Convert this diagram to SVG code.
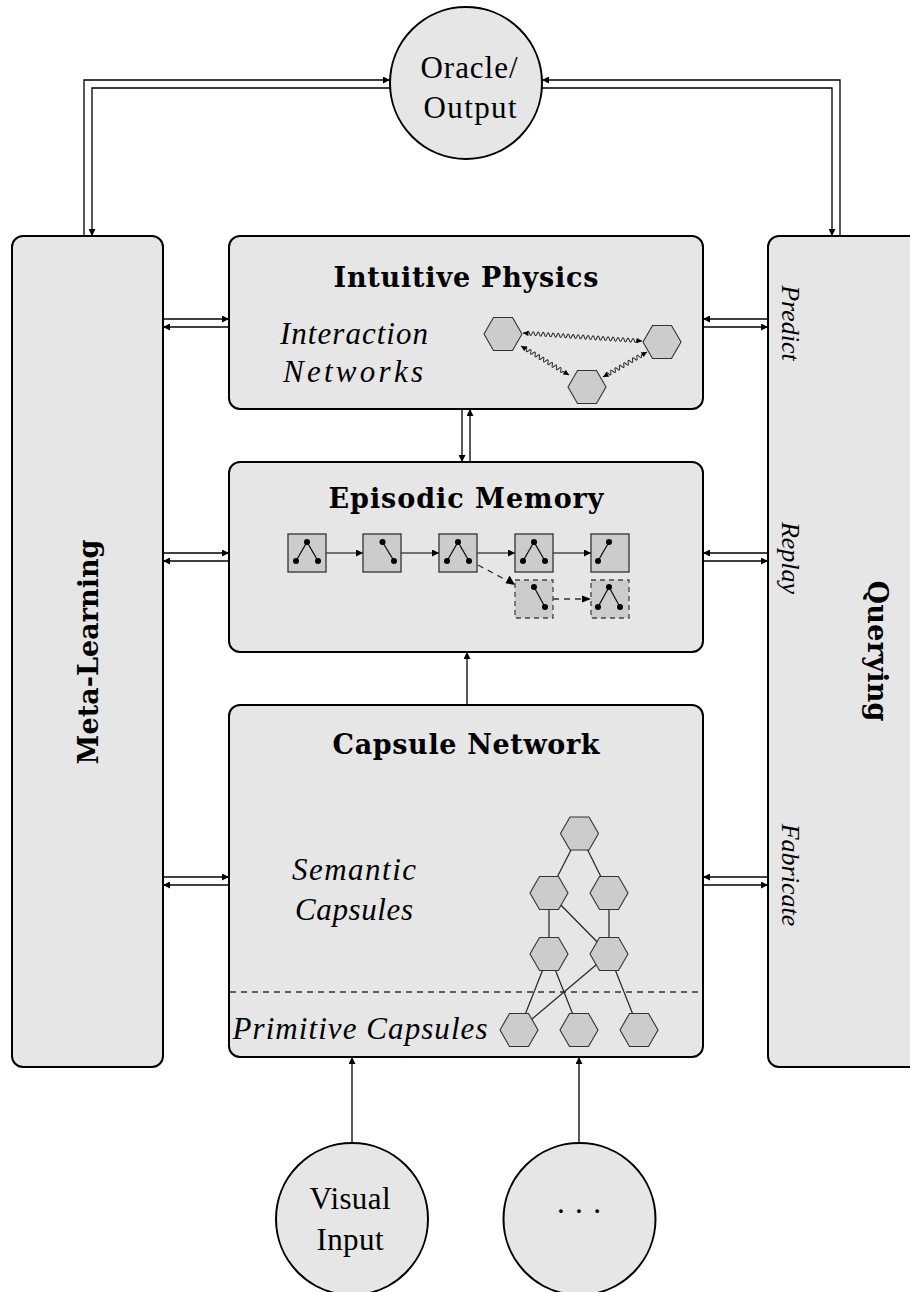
<svg xmlns="http://www.w3.org/2000/svg" xmlns:xlink="http://www.w3.org/1999/xlink" width="910" height="1292" viewBox="0 0 910 1292">
  <style>
    .box { fill: #e6e6e6; stroke: #000; stroke-width: 2; }
    .circ { fill: #e6e6e6; stroke: #000; stroke-width: 2; }
    .hex { fill: #cccccc; stroke: #333; stroke-width: 1.1; }
    .sq { fill: #cccccc; stroke: #333; stroke-width: 1.3; }
    .sqd { fill: #cccccc; stroke: #444; stroke-width: 1.3; stroke-dasharray: 5 4; }
    .dot { fill: #000; }
    .seg { stroke: #111; stroke-width: 1.3; fill: none; }
    .edge { stroke: #222; stroke-width: 1.2; fill: none; }
    .conn { stroke: #000; stroke-width: 1.3; fill: none; marker-end: url(#arr); }
    .small { stroke: #000; stroke-width: 1.2; fill: none; marker-end: url(#arr); }
    .dash { stroke: #333; stroke-width: 1.3; fill: none; stroke-dasharray: 6 5; }
    .wave { stroke: #222; stroke-width: 1; fill: none; marker-start: url(#arrw); marker-end: url(#arrw); }
    .t { font-family: "Liberation Serif", "DejaVu Serif", serif; fill: #000; }
    .title { font-family: "DejaVu Serif", "Liberation Serif", serif; font-size: 27px; font-weight: bold; text-anchor: middle; }
    .lbl { font-size: 31px; text-anchor: middle; }
    .it { font-size: 31px; font-style: italic; text-anchor: middle; }
    .side { font-size: 26px; font-style: italic; text-anchor: middle; }
  </style>
  <defs>
    <marker id="arr" viewBox="0 0 10 10" refX="10" refY="5" markerUnits="userSpaceOnUse" markerWidth="9" markerHeight="7" orient="auto-start-reverse">
      <path d="M0,0 L10,5 L0,10 Z" fill="#000"/>
    </marker>
    <marker id="arrw" viewBox="0 0 10 10" refX="10" refY="5" markerUnits="userSpaceOnUse" markerWidth="7" markerHeight="5.5" orient="auto-start-reverse">
      <path d="M0,0 L10,5 L0,10 Z" fill="#000"/>
    </marker>
    <path id="hex" d="M-19,0 L-9.5,-16.5 L9.5,-16.5 L19,0 L9.5,16.5 L-9.5,16.5 Z"/>
  </defs>

  <!-- connectors -->
  <g id="connectors">
    <!-- oracle loop, left -->
    <path class="conn" d="M84,236 V80 H390"/>
    <path class="conn" d="M391,88 H92 V236"/>
    <!-- oracle loop, right -->
    <path class="conn" d="M840,236 V80 H542"/>
    <path class="conn" d="M541,88 H832 V236"/>
    <!-- meta-learning links -->
    <path class="conn" d="M163,319 H229"/>
    <path class="conn" d="M229,327 H163"/>
    <path class="conn" d="M163,553 H229"/>
    <path class="conn" d="M229,561 H163"/>
    <path class="conn" d="M163,877 H229"/>
    <path class="conn" d="M229,885 H163"/>
    <!-- querying links -->
    <path class="conn" d="M768,319 H703"/>
    <path class="conn" d="M703,327 H768"/>
    <path class="conn" d="M768,553 H703"/>
    <path class="conn" d="M703,561 H768"/>
    <path class="conn" d="M768,877 H703"/>
    <path class="conn" d="M703,885 H768"/>
    <!-- vertical stack -->
    <path class="conn" d="M462,409 V462"/>
    <path class="conn" d="M470,462 V409"/>
    <path class="conn" d="M467,705 V652"/>
    <!-- inputs -->
    <path class="conn" d="M352,1143 V1057"/>
    <path class="conn" d="M579,1143 V1057"/>
  </g>

  <!-- oracle -->
  <g id="oracle">
    <circle class="circ" cx="466" cy="83" r="76"/>
    <text class="t lbl" x="469" y="78" textLength="97">Oracle/</text>
    <text class="t lbl" x="470" y="118" textLength="93">Output</text>
  </g>

  <!-- meta-learning -->
  <g id="meta-learning">
    <rect class="box" x="12" y="236" width="151" height="831" rx="11"/>
    <text class="t title" transform="translate(98,652) rotate(-90)" x="0" y="0" textLength="225">Meta-Learning</text>
  </g>

  <!-- querying -->
  <g id="querying">
    <rect class="box" x="768" y="236" width="160" height="831" rx="11"/>
    <text class="t title" transform="translate(868,651) rotate(90)" x="0" y="0" textLength="141">Querying</text>
    <text class="t side" transform="translate(782,323) rotate(90)" x="0" y="0">Predict</text>
    <text class="t side" transform="translate(782,558) rotate(90)" x="0" y="0">Replay</text>
    <text class="t side" transform="translate(782,875) rotate(90)" x="0" y="0">Fabricate</text>
  </g>

  <!-- intuitive physics -->
  <g id="intuitive-physics">
    <rect class="box" x="229" y="236" width="474" height="173" rx="11"/>
    <text class="t title" x="466" y="287" textLength="265">Intuitive Physics</text>
    <text class="t it" x="354" y="344" textLength="148">Interaction</text>
    <text class="t it" x="353" y="382" textLength="140">Networks</text>
    <path class="wave" transform="translate(523,333) rotate(3.85)" d="M0,0 h4 q1.25,-4 2.5,0 q1.25,4 2.5,0 q1.25,-4 2.5,0 q1.25,4 2.5,0 q1.25,-4 2.5,0 q1.25,4 2.5,0 q1.25,-4 2.5,0 q1.25,4 2.5,0 q1.25,-4 2.5,0 q1.25,4 2.5,0 q1.25,-4 2.5,0 q1.25,4 2.5,0 q1.25,-4 2.5,0 q1.25,4 2.5,0 q1.25,-4 2.5,0 q1.25,4 2.5,0 q1.25,-4 2.5,0 q1.25,4 2.5,0 q1.25,-4 2.5,0 q1.25,4 2.5,0 q1.25,-4 2.5,0 q1.25,4 2.5,0 q1.25,-4 2.5,0 q1.25,4 2.5,0 q1.25,-4 2.5,0 q1.25,4 2.5,0 q1.25,-4 2.5,0 q1.25,4 2.5,0 q1.25,-4 2.5,0 q1.25,4 2.5,0 q1.25,-4 2.5,0 q1.25,4 2.5,0 q1.25,-4 2.5,0 q1.25,4 2.5,0 q1.25,-4 2.5,0 q1.25,4 2.5,0 q1.25,-4 2.5,0 q1.25,4 2.5,0 q1.25,-4 2.5,0 q1.25,4 2.5,0 q1.25,-4 2.5,0 q1.25,4 2.5,0 q1.25,-4 2.5,0 q1.25,4 2.5,0 L119.3,0"/>
    <path class="wave" transform="translate(521,346) rotate(31.1)" d="M0,0 h4 q1.25,-4 2.5,0 q1.25,4 2.5,0 q1.25,-4 2.5,0 q1.25,4 2.5,0 q1.25,-4 2.5,0 q1.25,4 2.5,0 q1.25,-4 2.5,0 q1.25,4 2.5,0 q1.25,-4 2.5,0 q1.25,4 2.5,0 q1.25,-4 2.5,0 q1.25,4 2.5,0 q1.25,-4 2.5,0 q1.25,4 2.5,0 q1.25,-4 2.5,0 q1.25,4 2.5,0 q1.25,-4 2.5,0 q1.25,4 2.5,0 L56.1,0"/>
    <path class="wave" transform="translate(603,377) rotate(-29.6)" d="M0,0 h4 q1.25,-4 2.5,0 q1.25,4 2.5,0 q1.25,-4 2.5,0 q1.25,4 2.5,0 q1.25,-4 2.5,0 q1.25,4 2.5,0 q1.25,-4 2.5,0 q1.25,4 2.5,0 q1.25,-4 2.5,0 q1.25,4 2.5,0 q1.25,-4 2.5,0 q1.25,4 2.5,0 q1.25,-4 2.5,0 q1.25,4 2.5,0 q1.25,-4 2.5,0 q1.25,4 2.5,0 L50.6,0"/>
    <use class="hex" href="#hex" x="503" y="334"/>
    <use class="hex" href="#hex" x="662" y="342"/>
    <use class="hex" href="#hex" x="587" y="387"/>
  </g>

  <!-- episodic memory -->
  <g id="episodic-memory">
    <rect class="box" x="229" y="462" width="474" height="190" rx="11"/>
    <text class="t title" x="466" y="508" textLength="275">Episodic Memory</text>
    <!-- timeline arrows -->
    <path class="small" d="M326,553 H363"/>
    <path class="small" d="M401,553 H439"/>
    <path class="small" d="M477,553 H515"/>
    <path class="small" d="M553,553 H591"/>
    <path class="dash" d="M478,565 L506,580" />
    <path d="M515,585 L505.5,583.2 L509.6,575.5 Z" fill="#000"/>
    <path class="dash" d="M553,599 H584"/>
    <path d="M591,599 L582,595.5 L582,602.5 Z" fill="#000"/>
    <!-- frames -->
    <rect class="sq" x="288" y="534" width="38" height="38"/>
    <path class="seg" d="M296,561 L307,542 L318,561"/>
    <circle class="dot" cx="307" cy="542" r="3"/><circle class="dot" cx="296" cy="561" r="3"/><circle class="dot" cx="318" cy="561" r="3"/>

    <rect class="sq" x="363" y="534" width="38" height="38"/>
    <path class="seg" d="M382.5,542 L394,561"/>
    <circle class="dot" cx="382.5" cy="542" r="3"/><circle class="dot" cx="394" cy="561" r="3"/>

    <rect class="sq" x="439" y="534" width="38" height="38"/>
    <path class="seg" d="M447,561 L458,542 L469,561"/>
    <circle class="dot" cx="458" cy="542" r="3"/><circle class="dot" cx="447" cy="561" r="3"/><circle class="dot" cx="469" cy="561" r="3"/>

    <rect class="sq" x="515" y="534" width="38" height="38"/>
    <path class="seg" d="M523,561 L534,542 L545,561"/>
    <circle class="dot" cx="534" cy="542" r="3"/><circle class="dot" cx="523" cy="561" r="3"/><circle class="dot" cx="545" cy="561" r="3"/>

    <rect class="sq" x="591" y="534" width="38" height="38"/>
    <path class="seg" d="M609,542 L598,561"/>
    <circle class="dot" cx="609" cy="542" r="3"/><circle class="dot" cx="598" cy="561" r="3"/>

    <rect class="sqd" x="515" y="580" width="38" height="38"/>
    <path class="seg" d="M534,587 L545,607"/>
    <circle class="dot" cx="534" cy="587" r="3"/><circle class="dot" cx="545" cy="607" r="3"/>

    <rect class="sqd" x="591" y="580" width="38" height="38"/>
    <path class="seg" d="M598,607 L609,587 L620,607"/>
    <circle class="dot" cx="609" cy="587" r="3"/><circle class="dot" cx="598" cy="607" r="3"/><circle class="dot" cx="620" cy="607" r="3"/>
  </g>

  <!-- capsule network -->
  <g id="capsule-network">
    <rect class="box" x="229" y="705" width="474" height="352" rx="11"/>
    <text class="t title" x="466" y="754" textLength="267">Capsule Network</text>
    <text class="t it" x="354" y="880" textLength="124">Semantic</text>
    <text class="t it" x="354" y="920" textLength="118">Capsules</text>
    <text class="t it" x="360" y="1039" textLength="255">Primitive Capsules</text>
    <line class="dash" x1="230" y1="992" x2="702" y2="992" stroke-dasharray="8 6"/>
    <g id="capsule-edges">
      <line class="edge" x1="579.5" y1="833.5" x2="549" y2="893"/>
      <line class="edge" x1="579.5" y1="833.5" x2="609" y2="893"/>
      <line class="edge" x1="549" y1="893" x2="549" y2="954"/>
      <line class="edge" x1="549" y1="893" x2="609" y2="954"/>
      <line class="edge" x1="609" y1="893" x2="609" y2="954"/>
      <line class="edge" x1="549" y1="954" x2="519" y2="1030"/>
      <line class="edge" x1="549" y1="954" x2="579" y2="1030"/>
      <line class="edge" x1="609" y1="954" x2="519" y2="1030"/>
      <line class="edge" x1="609" y1="954" x2="639" y2="1030"/>
    </g>
    <use class="hex" href="#hex" x="579.5" y="833.5"/>
    <use class="hex" href="#hex" x="549" y="893"/>
    <use class="hex" href="#hex" x="609" y="893"/>
    <use class="hex" href="#hex" x="549" y="954"/>
    <use class="hex" href="#hex" x="609" y="954"/>
    <use class="hex" href="#hex" x="519" y="1030"/>
    <use class="hex" href="#hex" x="579" y="1030"/>
    <use class="hex" href="#hex" x="639" y="1030"/>
  </g>

  <!-- inputs -->
  <g id="visual-input">
    <circle class="circ" cx="352" cy="1219" r="76"/>
    <text class="t lbl" x="350" y="1209" textLength="81">Visual</text>
    <text class="t lbl" x="350" y="1250" textLength="67">Input</text>
  </g>
  <g id="other-input">
    <circle class="circ" cx="579.5" cy="1219" r="76"/>
    <text class="t lbl" x="579" y="1222">· · ·</text>
  </g>
</svg>
